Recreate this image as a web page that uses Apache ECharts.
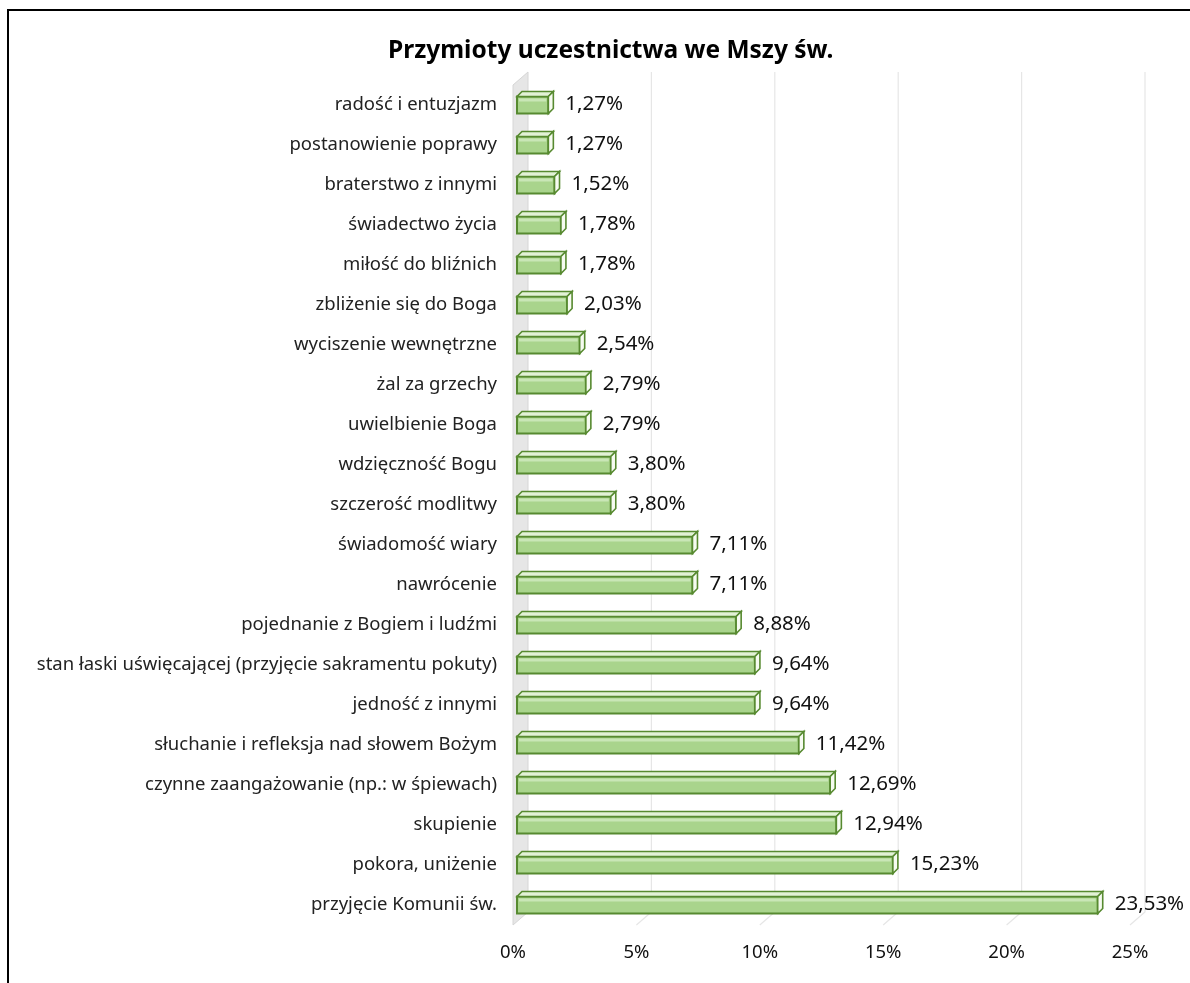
<!DOCTYPE html>
<html>
<head>
<meta charset="utf-8">
<script src="https://cdn.jsdelivr.net/npm/echarts@6/dist/echarts.min.js"></script>
<style>
  html, body { margin: 0; padding: 0; background: #fff; }
  #chart { width: 1190px; height: 983px; }
</style>
</head>
<body>
<div id="chart"></div>
<script>
// kategorie od góry do dołu
var categories = [
  'radość i entuzjazm',
  'postanowienie poprawy',
  'braterstwo z innymi',
  'świadectwo życia',
  'miłość do bliźnich',
  'zbliżenie się do Boga',
  'wyciszenie wewnętrzne',
  'żal za grzechy',
  'uwielbienie Boga',
  'wdzięczność Bogu',
  'szczerość modlitwy',
  'świadomość wiary',
  'nawrócenie',
  'pojednanie z Bogiem i ludźmi',
  'stan łaski uświęcającej (przyjęcie sakramentu pokuty)',
  'jedność z innymi',
  'słuchanie i refleksja nad słowem Bożym',
  'czynne zaangażowanie (np.: w śpiewach)',
  'skupienie',
  'pokora, uniżenie',
  'przyjęcie Komunii św.'
];
var values = [1.27, 1.27, 1.52, 1.78, 1.78, 2.03, 2.54, 2.79, 2.79, 3.80, 3.80,
              7.11, 7.11, 8.88, 9.64, 9.64, 11.42, 12.69, 12.94, 15.23, 23.53];
var ticks = [0, 5, 10, 15, 20, 25];

var chart = echarts.init(document.getElementById('chart'));

var DX = 15, DY = 13; // glebokosc 3D sciany / siatki

function fmt(v) {
  return v.toFixed(2).replace('.', ',') + '%';
}

// sciana i linie siatki "z tylu"
function renderWall(params, api) {
  var band = api.size([0, 1])[1];
  var top = api.coord([0, 0])[1] - band / 2;
  var bottom = api.coord([0, categories.length - 1])[1] + band / 2;
  var x0 = api.coord([0, 0])[0];
  var children = [{
    type: 'polygon',
    shape: { points: [[x0, bottom], [x0 + DX, bottom - DY], [x0 + DX, top - DY], [x0, top]] },
    style: { fill: '#e6e6e6', stroke: '#d6d6d6', lineWidth: 1 }
  }];
  ticks.slice(1).forEach(function (t) {
    var x = api.coord([t, 0])[0];
    children.push({
      type: 'polyline',
      shape: { points: [[x, bottom], [x + DX, bottom - DY], [x + DX, top - DY]] },
      style: { stroke: '#e6e6e6', lineWidth: 1.2, fill: null }
    });
  });
  return { type: 'group', children: children };
}

// slupek 3D
function renderBar(params, api) {
  var v = api.value(0);
  var idx = api.value(1);
  var p0 = api.coord([0, idx]);
  var p1 = api.coord([v, idx]);
  var h = 17, d = 5;
  var x0 = p0[0] + 4, x1 = p1[0] + 4;
  var yt = p0[1] - h / 2;
  var stroke = '#578a30';
  return {
    type: 'group',
    children: [{
      type: 'rect',
      shape: { x: x0, y: yt, width: x1 - x0, height: h },
      style: { fill: '#a9d48c', stroke: stroke, lineWidth: 2 }
    }, {
      type: 'rect',
      shape: { x: x0 + 2, y: yt + 2, width: Math.max(x1 - x0 - 4, 0), height: 3 },
      style: { fill: '#c9e6b6' }
    }, {
      type: 'polygon',
      shape: { points: [[x0, yt], [x0 + d, yt - d], [x1 + d, yt - d], [x1, yt]] },
      style: { fill: '#e2f2d6', stroke: stroke, lineWidth: 1.6 }
    }, {
      type: 'polygon',
      shape: { points: [[x1, yt], [x1 + d, yt - d], [x1 + d, yt - d + h], [x1, yt + h]] },
      style: { fill: '#f6fbf1', stroke: stroke, lineWidth: 1.6 }
    }, {
      type: 'text',
      style: {
        text: fmt(v),
        x: x1 + d + 12,
        y: yt + h / 2 - 1,
        verticalAlign: 'middle',
        fill: '#111',
        font: '20.5px "Noto Sans"'
      }
    }]
  };
}

var option = {
  animation: false,
  backgroundColor: '#fff',
  title: {
    text: 'Przymioty uczestnictwa we Mszy św.',
    left: 383,
    top: 34,
    textStyle: { fontFamily: 'Noto Sans', fontSize: 24.5, fontWeight: 'bold', color: '#000' }
  },
  graphic: [{
    type: 'rect',
    shape: { x: 8, y: 10, width: 1300, height: 1100 },
    style: { fill: null, stroke: '#000', lineWidth: 2 },
    silent: true
  }],
  grid: { left: 513, right: 60, top: 85, bottom: 58 },
  xAxis: {
    type: 'value',
    min: 0,
    max: 25,
    interval: 5,
    axisLine: { show: false },
    axisTick: { show: false },
    splitLine: { show: false },
    axisLabel: {
      margin: 18,
      formatter: function (v) { return v + '%'; },
      color: '#111',
      fontFamily: 'Noto Sans',
      fontSize: 18.5
    }
  },
  yAxis: {
    type: 'category',
    data: categories,
    inverse: true,
    axisLine: { show: false },
    axisTick: { show: false },
    axisLabel: {
      margin: 16,
      color: '#222',
      fontFamily: 'Noto Sans',
      fontSize: 18.5
    }
  },
  series: [{
    type: 'custom',
    renderItem: renderWall,
    data: [[0, 0]],
    encode: { x: 0, y: 1 },
    silent: true,
    z: 1
  }, {
    type: 'custom',
    renderItem: renderBar,
    data: values.map(function (v, i) { return [v, i]; }),
    encode: { x: 0, y: 1 },
    z: 2
  }]
};

chart.setOption(option);
</script>
</body>
</html>
